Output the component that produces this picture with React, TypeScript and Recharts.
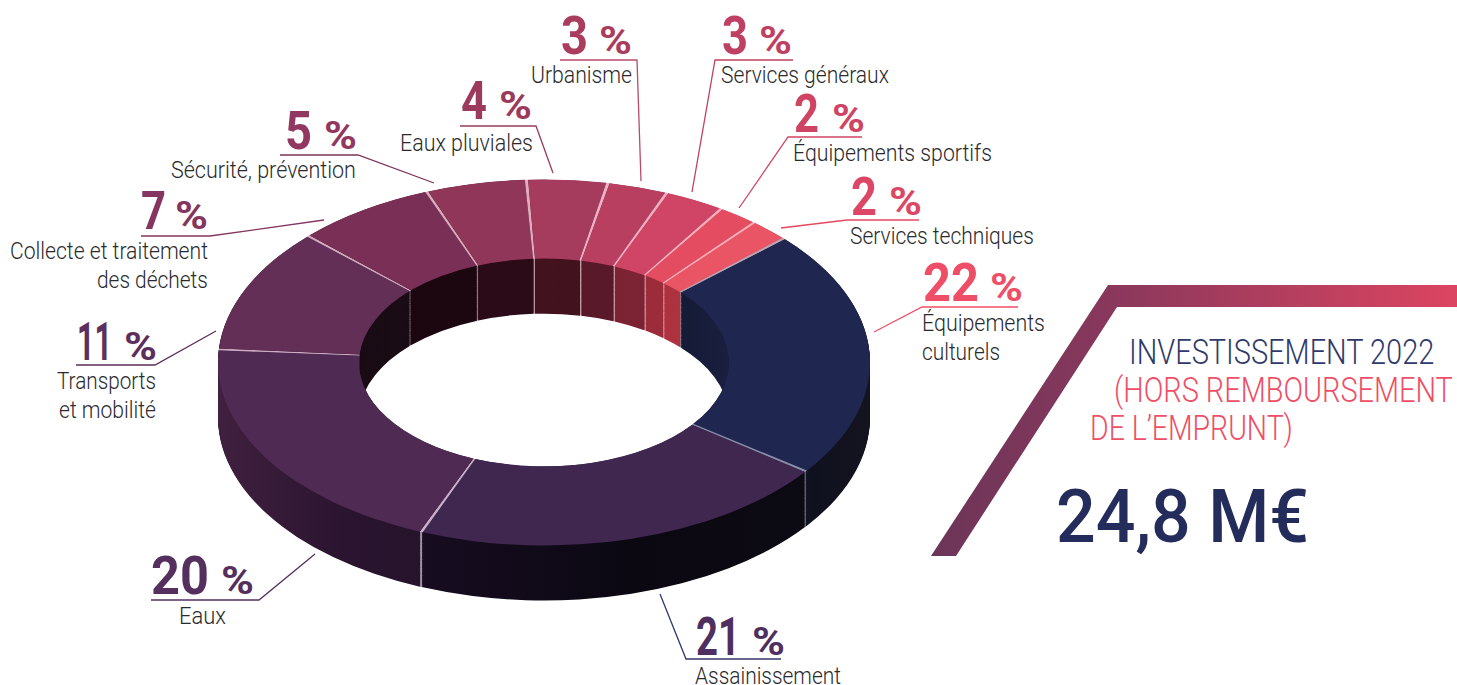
import { PieChart, Pie, Cell } from "recharts";

// clockwise from the navy slice
const LABELS = [
  ["Équipements", "culturels"],
  ["Assainissement"],
  ["Eaux"],
  ["Transports", "et mobilité"],
  ["Collecte et traitement", "des déchets"],
  ["Sécurité, prévention"],
  ["Eaux pluviales"],
  ["Urbanisme"],
  ["Services généraux"],
  ["Équipements sportifs"],
  ["Services techniques"],
];
const SHARES = [22, 21, 20, 11, 7, 5, 4, 3, 3, 2, 2];

const TOP_COLORS = ["#1f2750", "#3f2750", "#4f2a52", "#632f57", "#7a3056", "#8f3659", "#a53b5d", "#b93f61", "#d04566", "#e44c62", "#ea5566"];
const WALL_COLORS = ["url(#wall22)", "url(#wall21)", "url(#wall20)", "#1b0d16", "#1d0711", "#2c0c18", "#43131f", "#5a1a2a", "#7c2435", "#9c2d3b", "#ae3340"];
const TOP_SEAMS = ["#8a8eae", "#c9aecb", "#d0aac6", "#d2a8bf", "#d8a8bc", "#e2abbf", "#efb0c4", "#f3adc0", "#f9aebc", "#fbadb5", "#c2a2b0"];
const WALL_SEAMS = ["#6d6f80", "#a898ac", "#a898ac", "#9a8e96", "#9a8a90", "#b8a4aa", "#d4b4bc", "#e0b4bc", "#e8b4bc", "#eeb0b4", "#9a8e96"];
const NUMBER_COLORS = ["#ee4f66", "#4f2f60", "#55305f", "#5d2f5c", "#843560", "#923860", "#9c3a5e", "#aa3c5e", "#bf4062", "#d04463", "#db4764"];
const LINE_COLORS = ["#ee4f66", "#33386c", "#55305f", "#5d2f5c", "#843560", "#7e3358", "#9c3a5e", "#b84a6a", "#bf4062", "#d04463", "#e5485f"];

// callout layout, same order as SHARES
const CALLOUTS = [
  { digit: [923, 301, 56], pct: [990, 301], line: [[1018, 307], [922, 307], [874, 332]], text: [[922, 331, 123], [922, 360, 78]] },
  { digit: [696, 655, 44], pct: [752, 655], line: [[781, 659], [686, 659], [660, 594]], text: [[695, 684, 146]] },
  { digit: [151, 594, 58], pct: [221, 594], line: [[151, 600], [259, 600], [315, 554]], text: [[179, 624, 47]] },
  { digit: [77, 360, 35], pct: [124, 360], line: [[76, 365], [155, 365], [216, 331]], text: [[57, 389, 99], [59, 418, 97]] },
  { digit: [141, 229, 25], pct: [175, 229], line: [[141, 236], [210, 236], [324, 220]], text: [[10, 259, 198], [97, 288, 111]] },
  { digit: [285, 149, 27], pct: [324, 149], line: [[280, 155], [358, 155], [434, 183]], text: [[171, 178, 185]] },
  { digit: [461, 119, 26], pct: [499, 119], line: [[460, 126], [536, 126], [553, 173]], text: [[400, 151, 133]] },
  { digit: [561, 54, 27], pct: [599, 54], line: [[560, 60], [637, 60], [641, 181]], text: [[531, 83, 101]] },
  { digit: [722, 54, 26], pct: [759, 54], line: [[793, 60], [715, 60], [692, 192]], text: [[721, 83, 168]] },
  { digit: [794, 132, 25], pct: [832, 132], line: [[862, 137], [788, 137], [739, 208]], text: [[793, 161, 199]] },
  { digit: [851, 215, 26], pct: [889, 215], line: [[919, 220], [847, 220], [781, 228]], text: [[850, 244, 184]] },
];

const TITLE_LINES = [
  { text: "INVESTISSEMENT 2022", x: 1129, y: 364, w: 306, fill: "#2f3a6b" },
  { text: "(HORS REMBOURSEMENT", x: 1114, y: 402, w: 339, fill: "#ee4f66" },
  { text: "DE L’EMPRUNT)", x: 1090, y: 440, w: 203, fill: "#ee4f66" },
];

const FONT = "Roboto";
const SQUASH = 183 / 326;
const WALL_DEPTH = 98;
const WALL_STEP = 1.5;
const TOP_SEAM = 0.16;
const WALL_SEAM = 0.1;
const START = 42.4;

const withSeams = (fills: string[], seams: string[], seam: number) =>
  SHARES.flatMap((share, i) => [
    { name: LABELS[i][0], value: share - seam, fill: fills[i] },
    { name: `${LABELS[i][0]} seam`, value: seam, fill: seams[i] },
  ]);

const topData = withSeams(TOP_COLORS, TOP_SEAMS, TOP_SEAM);
const wallData = withSeams(WALL_COLORS, WALL_SEAMS, WALL_SEAM);

const layers: number[] = [];
for (let d = WALL_DEPTH; d > 0; d -= WALL_STEP) layers.push(d);

function Ring({ data, offset }: { data: typeof topData; offset: number }) {
  return (
    <Pie
      key={offset}
      data={data}
      dataKey="value"
      cx={350}
      cy={350 + offset}
      innerRadius={185}
      outerRadius={326}
      startAngle={START}
      endAngle={START - 360}
      stroke="none"
      isAnimationActive={false}
      label={false}
      labelLine={false}
    >
      {data.map((entry, i) => (
        <Cell key={i} fill={entry.fill} />
      ))}
    </Pie>
  );
}

const ctx = document.createElement("canvas").getContext("2d")!;

// squeeze the text horizontally to the width it has in the picture
function FitText({ x, y, w, size, weight, fill, children }: { x: number; y: number; w: number; size: number; weight: number; fill: string; children: string }) {
  ctx.font = `${weight} ${size}px ${FONT}`;
  const sx = w / ctx.measureText(children).width;
  return (
    <text transform={`translate(${x} ${y}) scale(${sx} 1)`} fontSize={size} fontWeight={weight} fontFamily={FONT} fill={fill}>
      {children}
    </text>
  );
}

export default function App() {
  return (
    <div style={{ position: "absolute", left: 0, top: 0, width: 1457, height: 685, overflow: "hidden", background: "#fff", fontFamily: FONT }}>
      <div style={{ position: "absolute", left: 194, top: 362 - 350 * SQUASH, transform: `scaleY(${SQUASH})`, transformOrigin: "0 0" }}>
        <PieChart width={700} height={820} margin={{ top: 0, right: 0, bottom: 0, left: 0 }}>
          <defs>
            <linearGradient id="wall20" x1="0" y1="0" x2="1" y2="0">
              <stop offset="0" stopColor="#40203f" />
              <stop offset="0.5" stopColor="#2a1430" />
              <stop offset="1" stopColor="#241329" />
            </linearGradient>
            <linearGradient id="wall21" x1="0" y1="0" x2="1" y2="0">
              <stop offset="0" stopColor="#170c20" />
              <stop offset="0.55" stopColor="#0b0812" />
              <stop offset="1" stopColor="#0c0a12" />
            </linearGradient>
            <linearGradient id="wall22" x1="0" y1="0" x2="1" y2="0">
              <stop offset="0" stopColor="#151a36" />
              <stop offset="0.3" stopColor="#1a2040" />
              <stop offset="0.7" stopColor="#10111f" />
              <stop offset="1" stopColor="#14141f" />
            </linearGradient>
          </defs>
          {layers.map((d) => Ring({ data: wallData, offset: d }))}
          {Ring({ data: topData, offset: 0 })}
        </PieChart>
      </div>

      <svg width={1457} height={685} style={{ position: "absolute", left: 0, top: 0 }}>
        <defs>
          <linearGradient id="band" gradientUnits="userSpaceOnUse" x1="931" y1="0" x2="1457" y2="0">
            <stop offset="0" stopColor="#6b3558" />
            <stop offset="0.35" stopColor="#8a385c" />
            <stop offset="1" stopColor="#dc4561" />
          </linearGradient>
        </defs>
        <polygon points="931,556 1108,285 1457,285 1457,307 1117,307 956,556" fill="url(#band)" />

        {CALLOUTS.map((c, i) => (
          <g key={i}>
            <polyline points={c.line.map((p) => p.join(",")).join(" ")} fill="none" stroke={LINE_COLORS[i]} strokeWidth={1.3} />
            <FitText x={c.digit[0]} y={c.digit[1]} w={c.digit[2]} size={53} weight={700} fill={NUMBER_COLORS[i]}>
              {String(SHARES[i])}
            </FitText>
            <FitText x={c.pct[0]} y={c.pct[1]} w={33} size={38} weight={700} fill={NUMBER_COLORS[i]}>
              %
            </FitText>
            {LABELS[i].map((line, j) => (
              <FitText key={j} x={c.text[j][0]} y={c.text[j][1]} w={c.text[j][2]} size={23} weight={300} fill="#2a2a2e">
                {line}
              </FitText>
            ))}
          </g>
        ))}

        {TITLE_LINES.map((t) => (
          <FitText key={t.text} x={t.x} y={t.y} w={t.w} size={35} weight={300} fill={t.fill}>
            {t.text}
          </FitText>
        ))}
        <FitText x={1056} y={542} w={253} size={74} weight={500} fill="#232c5b">
          24,8 M€
        </FitText>
      </svg>
    </div>
  );
}
